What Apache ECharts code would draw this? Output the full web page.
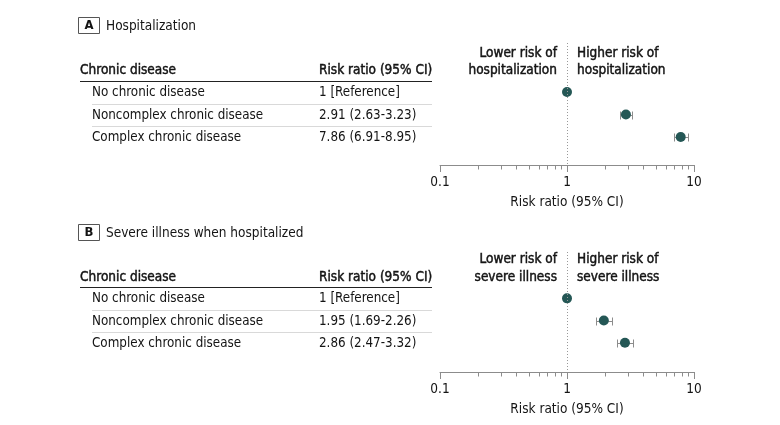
<!DOCTYPE html>
<html><head><meta charset="utf-8">
<script src="https://cdn.jsdelivr.net/npm/echarts@6/dist/echarts.min.js"></script>
<style>html,body{margin:0;padding:0;background:#fff}#c{width:780px;height:425px}</style>
</head><body><div id="c"></div>
<script>
// ---- data ----
const categories = ['No chronic disease', 'Noncomplex chronic disease', 'Complex chronic disease'];
const panelLetters = ['A', 'B'];
const panelTitles = ['Hospitalization', 'Severe illness when hospitalized'];
const colHeaders = ['Chronic disease', 'Risk ratio (95% CI)'];
const hospRR = [1, 2.91, 7.86];
const hospLow = [null, 2.63, 6.91];
const hospHigh = [null, 3.23, 8.95];
const hospText = ['1 [Reference]', '2.91 (2.63-3.23)', '7.86 (6.91-8.95)'];
const sevRR = [1, 1.95, 2.86];
const sevLow = [null, 1.69, 2.47];
const sevHigh = [null, 2.26, 3.32];
const sevText = ['1 [Reference]', '1.95 (1.69-2.26)', '2.86 (2.47-3.32)'];
const lowerText = [['Lower risk of', 'hospitalization'], ['Lower risk of', 'severe illness']];
const higherText = [['Higher risk of', 'hospitalization'], ['Higher risk of', 'severe illness']];
const xTickLabels = ['0.1', '1', '10'];
const minorTicks = [0.2, 0.3, 0.4, 0.5, 0.6, 0.7, 0.8, 0.9, 2, 3, 4, 5, 6, 7, 8, 9];
const axisTitle = 'Risk ratio (95% CI)';

// ---- styling ----
const FONT = '"DejaVu Sans Condensed"';
const FS = 13.3;
const TXT = '#141414';
const DOT = '#245755';
const GRAY = '#8c8c8c';

const panels = [
  {rr: hospRR, lo: hospLow, hi: hospHigh, txt: hospText},
  {rr: sevRR, lo: sevLow, hi: sevHigh, txt: sevText}
];

const grids = [
  {left: 440, width: 254, top: 43, height: 122},
  {left: 440, width: 254, top: 252, height: 120}
];
const yRanges = [[-2.18, 3.24], [-2.09, 3.32]];

const xAxes = grids.map((g, i) => ({
  type: 'log', logBase: 10, min: 0.1, max: 10, gridIndex: i, position: 'bottom',
  axisLine: {show: true, onZero: false, lineStyle: {color: GRAY, width: 1}},
  axisTick: {show: true, length: 7, lineStyle: {color: GRAY, width: 1}},
  splitLine: {show: false},
  axisLabel: {
    fontFamily: 'DejaVu Sans Condensed', fontSize: 13.5, color: TXT, margin: 10,
    formatter: v => xTickLabels[Math.round(Math.log10(v)) + 1]
  },
  name: axisTitle, nameLocation: 'middle', nameGap: 30,
  nameTextStyle: {fontFamily: 'DejaVu Sans Condensed', fontSize: 13.5, color: TXT}
}));
const yAxes = grids.map((g, i) => ({
  type: 'value', gridIndex: i, inverse: true, min: yRanges[i][0], max: yRanges[i][1], show: false
}));

const series = [];
panels.forEach((p, gi) => {
  // minor ticks
  series.push({
    type: 'custom', xAxisIndex: gi, yAxisIndex: gi, clip: false, silent: true, z: 1,
    data: minorTicks.map(v => [v, 0]),
    renderItem: (params, api) => {
      const x = Math.round(api.coord([api.value(0), 0])[0]) + 0.5;
      const cs = params.coordSys;
      const b = Math.round(cs.y + cs.height) + 0.5;
      return {type: 'line', shape: {x1: x, y1: b, x2: x, y2: b + 4}, style: {stroke: GRAY, lineWidth: 1}};
    }
  });
  // error bars
  const eb = [];
  p.rr.forEach((v, i) => { if (p.lo[i] != null) eb.push([p.lo[i], p.hi[i], i]); });
  series.push({
    type: 'custom', xAxisIndex: gi, yAxisIndex: gi, silent: true, z: 2,
    data: eb,
    renderItem: (params, api) => {
      const idx = api.value(2);
      const p1 = api.coord([api.value(0), idx]);
      const p2 = api.coord([api.value(1), idx]);
      const y = Math.round(p1[1]) + 0.5;
      const x1 = Math.round(p1[0]) + 0.5, x2 = Math.round(p2[0]) + 0.5;
      const st = {stroke: GRAY, lineWidth: 1};
      return {type: 'group', children: [
        {type: 'line', shape: {x1: x1, y1: y, x2: x2, y2: y}, style: st},
        {type: 'line', shape: {x1: x1, y1: y - 4, x2: x1, y2: y + 4}, style: st},
        {type: 'line', shape: {x1: x2, y1: y - 4, x2: x2, y2: y + 4}, style: st}
      ]};
    }
  });
  // points
  series.push({
    type: 'scatter', xAxisIndex: gi, yAxisIndex: gi, z: 3, silent: true,
    symbolSize: 10, itemStyle: {color: DOT, opacity: 1},
    data: p.rr.map((v, i) => [v, i]),
    markLine: {
      silent: true, symbol: 'none', label: {show: false}, animation: false,
      lineStyle: {type: [1, 2], color: '#999', width: 1},
      data: [{xAxis: 1}]
    }
  });
});

const chart = echarts.init(document.getElementById('c'));
chart.setOption({
  animation: false,
  grid: grids,
  xAxis: xAxes,
  yAxis: yAxes,
  series: series
});

// ---- table text ----
const graphic = [];
const yOf = (gi, v) => chart.convertToPixel({yAxisIndex: gi}, v);
const xOf = (gi, v) => chart.convertToPixel({xAxisIndex: gi}, v);
const titleY = [25, 232];
const reg = `${FS}px ${FONT}`;
const semi = `13.5px ${FONT}`;
// semibold look: regular glyphs with a thin outline of the same colour
const semiStyle = (t, align) => ({text: t, font: semi, fill: TXT, stroke: TXT, lineWidth: 0.45,
  align: align, verticalAlign: 'middle'});
panels.forEach((p, gi) => {
  const ty = titleY[gi];
  graphic.push({type: 'rect', shape: {x: 78.5, y: ty - 7.5, width: 21, height: 16},
    style: {fill: '#fff', stroke: '#555', lineWidth: 1}});
  graphic.push({type: 'text', x: 89, y: ty + 1, style: {text: panelLetters[gi], font: `bold 13px ${FONT}`,
    fill: TXT, align: 'center', verticalAlign: 'middle'}});
  graphic.push({type: 'text', x: 106, y: ty + 1, style: {text: panelTitles[gi], font: `13.5px ${FONT}`,
    fill: TXT, align: 'left', verticalAlign: 'middle'}});
  const r0 = yOf(gi, 0), r1 = yOf(gi, 1);
  const step = r1 - r0;
  const hy = r0 - step + 1;
  graphic.push({type: 'text', x: 80, y: hy, style: semiStyle(colHeaders[0], 'left')});
  graphic.push({type: 'text', x: 319, y: hy, style: semiStyle(colHeaders[1], 'left')});
  const hl = Math.round(r0 - step / 2) + 0.5;
  graphic.push({type: 'line', shape: {x1: 80, y1: hl, x2: 432, y2: hl}, style: {stroke: '#222', lineWidth: 1.2}});
  categories.forEach((c, i) => {
    const y = yOf(gi, i) + 0.5;
    graphic.push({type: 'text', x: 92, y: y, style: {text: c, font: reg, fill: TXT,
      align: 'left', verticalAlign: 'middle'}});
    graphic.push({type: 'text', x: 319, y: y, style: {text: p.txt[i], font: reg, fill: TXT,
      align: 'left', verticalAlign: 'middle'}});
    if (i < categories.length - 1) {
      const sy = Math.round(y + step / 2) + 0.5;
      graphic.push({type: 'line', shape: {x1: 92, y1: sy, x2: 432, y2: sy}, style: {stroke: '#d9d9d9', lineWidth: 1}});
    }
  });
  const x1 = xOf(gi, 1);
  const ly = hy - 17.5;
  lowerText[gi].forEach((t, k) => {
    graphic.push({type: 'text', x: x1 - 10, y: ly + k * 17.5, style: semiStyle(t, 'right')});
  });
  higherText[gi].forEach((t, k) => {
    graphic.push({type: 'text', x: x1 + 10, y: ly + k * 17.5, style: semiStyle(t, 'left')});
  });
});
chart.setOption({graphic: graphic});
</script>
</body></html>
